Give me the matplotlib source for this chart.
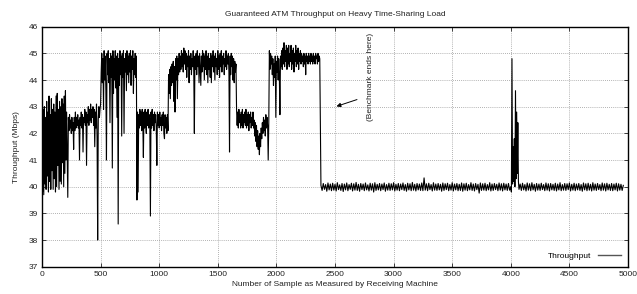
import numpy as np
import matplotlib
matplotlib.use("Agg")
import matplotlib.pyplot as plt

plt.rcParams['font.family'] = ['Liberation Sans', 'DejaVu Sans']

title = "Guaranteed ATM Throughput on Heavy Time-Sharing Load"
xlabel = "Number of Sample as Measured by Receiving Machine"
ylabel = "Throughput (Mbps)"
series_label = "Throughput"
note = "(Benchmark ends here)"
xticks = [0, 500, 1000, 1500, 2000, 2500, 3000, 3500, 4000, 4500, 5000]
yticks = [37, 38, 39, 40, 41, 42, 43, 44, 45, 46]

# segments of the measured series: (first sample, sample step, values)
seg_a1 = [43.1, 39.8, 42.9, 39.7, 43.0, 40.1, 42.6, 39.9, 43.2, 40.4,
          42.8, 39.8, 43.4, 40.2, 42.7, 39.9, 43.3, 40.6, 42.9, 39.9,
          43.1, 40.3, 42.8, 39.8, 43.4, 40.0, 43.5, 40.8, 42.9, 39.9,
          43.2, 40.2, 43.0, 40.1, 43.3, 40.9, 43.1, 40.0, 43.4, 40.5,
          43.6, 41.0, 42.8, 41.3, 39.6, 42.6]
seg_a2 = [42.1, 42.7, 42.2, 42.5, 42.0, 42.6, 42.1, 42.4, 41.4, 42.6,
          42.1, 42.8, 42.2, 42.6, 42.3, 42.7, 42.2, 42.5, 41.0, 42.6,
          42.3, 42.8, 42.2, 42.7, 41.3, 42.6, 42.4, 42.9, 42.3, 42.8,
          40.8, 42.7, 42.4, 43.0, 42.3, 42.9, 42.5, 43.1, 42.4, 42.9,
          42.6, 43.0, 42.3, 42.9, 41.5, 42.8, 42.2, 43.1, 41.8, 38.0,
          42.5, 43.0, 42.6, 42.9]
seg_c = [43.1, 44.3, 45.0, 43.9, 44.8, 42.9, 45.1, 44.0, 44.9, 43.6,
         41.0, 45.0, 44.2, 45.1, 43.9, 44.8, 42.4, 45.0, 44.1, 44.9,
         40.7, 45.1, 43.5, 44.8, 44.0, 45.1, 43.7, 44.9, 42.6, 45.0,
         38.6, 44.8, 43.8, 45.1, 44.2, 44.9, 41.9, 45.0, 44.1, 45.1,
         42.0, 44.8, 44.3, 45.0, 43.6, 45.1, 44.2, 44.9, 43.9, 45.0,
         44.3, 45.1, 43.8, 44.9, 44.4, 45.1, 43.5, 44.8, 44.2, 45.0,
         44.1, 44.9]
seg_d = [39.5, 42.8, 39.8, 42.7, 42.2, 42.9, 42.3, 42.8, 42.1, 42.9,
         42.4, 41.1, 42.8, 42.2, 42.9, 42.3, 42.0, 42.8, 42.3, 42.9,
         42.2, 42.7, 42.4, 38.9, 42.8, 42.2, 42.9, 42.3, 42.7, 42.1,
         42.8, 42.4, 42.7, 42.2, 40.8, 42.8, 42.3, 42.7, 42.2, 42.8,
         42.3, 42.6, 42.1, 42.7, 42.3, 42.8, 42.0, 41.8, 42.7, 42.2,
         42.6, 42.0, 42.7, 42.1]
seg_e = [44.2, 43.5, 44.4, 43.3, 44.5, 43.8, 44.6, 43.9, 44.7, 43.2,
         44.5, 42.8, 44.8, 44.0, 44.9, 43.3, 44.8, 44.2, 45.0, 44.3,
         44.9, 44.4, 45.1, 44.5, 45.0, 44.3, 45.2, 44.6, 45.1, 44.4,
         45.0, 44.1, 44.9, 44.5, 45.1, 43.9, 44.9, 44.4, 45.0, 44.2,
         44.8, 44.5, 45.1, 44.3, 42.0, 44.9, 44.4, 45.0, 44.2, 45.1,
         44.5, 44.9, 43.9, 45.0, 44.4, 43.8, 44.9, 44.3, 45.1, 44.5,
         45.0, 44.0, 44.9, 44.4, 45.1, 44.2, 44.9, 43.9, 45.0, 44.4,
         44.8, 44.1, 45.0, 43.9, 44.9, 44.5, 45.1, 44.3, 44.9, 44.0,
         45.0, 44.5, 44.8, 44.2, 45.1, 44.4, 44.9, 44.1, 45.0, 44.5,
         45.1, 44.3, 44.9, 44.6, 45.0, 44.2, 44.8, 44.5, 45.1, 44.4,
         44.9, 44.6, 45.0, 44.3, 41.3, 44.9, 44.2, 45.0, 44.5, 44.9,
         44.0, 44.8, 43.9, 44.7, 44.3, 44.6]
seg_f = [42.9, 42.3, 42.8, 42.2, 42.9, 42.4, 42.7, 42.2, 42.8, 42.3,
         42.9, 42.2, 42.7, 42.4, 42.8, 42.3, 42.9, 42.2, 42.7, 42.3,
         42.8, 42.1, 42.7, 42.4, 42.8, 42.2, 42.6, 42.3, 42.8, 42.2,
         42.5, 41.9, 42.4, 41.7, 42.3, 41.5, 42.1, 41.4, 41.9, 41.2,
         42.0, 41.5, 42.2, 41.8, 42.4, 42.0, 42.6, 42.1, 42.5, 41.9,
         42.7, 42.2, 42.6, 42.3, 41.0, 42.4]
seg_g = [45.1, 44.4, 45.0, 44.6, 44.9, 44.2, 44.8, 43.8, 44.6, 44.1,
         44.9, 42.6, 44.7, 44.3, 44.9, 44.0, 44.8, 44.2, 42.7, 44.9,
         44.5, 45.1, 44.4, 45.2, 44.6, 45.4, 44.5, 45.1, 44.7, 45.3,
         44.4, 45.2, 44.6, 45.3, 44.5, 45.0, 44.7, 45.3, 44.4, 45.1,
         44.6, 45.2, 44.3, 45.0, 44.7, 45.3, 44.5, 45.1, 44.6, 45.2,
         44.4, 45.0, 44.7, 45.1, 44.6, 45.0, 44.7, 44.9, 44.5, 45.0,
         44.6, 44.9, 44.2, 45.0, 44.7, 44.9, 44.6, 45.0, 44.7, 44.9,
         44.6, 45.0, 44.7, 44.9, 44.6, 45.0, 44.7, 44.9, 44.6, 45.0,
         44.8, 44.9, 44.6, 45.0, 44.7, 44.9, 44.8]
seg_h = [40.05, 39.86, 40.12, 39.90, 40.08, 39.83, 40.14, 39.88, 40.10, 39.85,
         40.13, 39.87, 40.09, 39.84, 40.15, 39.89, 40.07, 39.86, 40.12, 39.82,
         40.10, 39.88, 40.14, 39.85, 40.08, 39.90, 40.13, 39.84, 40.11, 39.87,
         40.16, 39.86, 40.09, 39.83, 40.12, 39.89, 40.10, 39.85, 40.14, 39.88,
         40.07, 39.84, 40.13, 39.87, 40.11, 39.80, 40.15, 39.86, 40.09, 39.88,
         40.12, 39.85, 40.10, 39.89, 40.14, 39.83, 40.08, 39.87, 40.13, 39.86,
         40.11, 39.88, 40.15, 39.84, 40.09, 39.87, 40.12, 39.85, 40.10, 39.89,
         40.14, 39.86, 40.08, 39.83, 40.13, 39.88, 40.11, 39.85, 40.16, 39.87,
         40.09, 39.84, 40.12, 39.88, 40.10, 39.86, 40.14, 39.85, 40.33, 39.87,
         40.11, 39.85, 40.13, 39.89, 40.08, 39.84, 40.15, 39.87, 40.10, 39.86,
         40.12, 39.88, 40.09, 39.83, 40.14, 39.86, 40.11, 39.89, 40.13, 39.85,
         40.08, 39.87, 40.15, 39.84, 40.10, 39.88, 40.12, 39.85, 40.09, 39.86,
         40.14, 39.83, 40.11, 39.87, 40.13, 39.85, 40.08, 39.88, 40.15, 39.86,
         40.10, 39.84, 40.12, 39.89, 40.09, 39.76, 40.14, 39.86, 40.11, 39.87,
         40.13, 39.85, 40.08, 39.88, 40.15, 39.84, 40.10, 39.86, 40.12, 39.89,
         40.09, 39.85, 40.14, 39.87, 40.11, 39.84, 40.13, 39.88, 40.10, 39.86,
         40.12, 39.87]
seg_spike = [40.0, 39.8, 44.8, 40.1, 41.5, 40.2, 41.8, 40.0, 43.6, 40.3,
             42.8, 40.5, 42.4, 40.2, 39.9]
seg_i = [40.10, 39.86, 40.13, 39.88, 40.08, 39.84, 40.14, 39.87, 40.11, 39.85,
         40.15, 39.88, 40.09, 39.83, 40.12, 39.87, 40.10, 39.86, 40.13, 39.89,
         40.08, 39.85, 40.14, 39.87, 40.11, 39.84, 40.12, 39.88, 40.09, 39.86,
         40.13, 39.84, 40.10, 39.88, 40.15, 39.85, 40.08, 39.87, 40.12, 39.86,
         40.11, 39.89, 40.14, 39.84, 40.09, 39.87, 40.13, 39.85, 40.10, 39.88,
         40.12, 39.86, 40.08, 39.83, 40.14, 39.88, 40.11, 39.85, 40.13, 39.87,
         40.09, 39.84, 40.15, 39.87, 40.10, 39.86, 40.12, 39.89, 40.08, 39.85,
         40.14, 39.87, 40.11, 39.84, 40.13, 39.88, 40.09, 39.86, 40.12, 39.85,
         40.10, 39.88, 40.13, 39.84, 40.11, 39.87, 40.09, 39.86, 40.05]

segments = [(0, 5, seg_a1), (230, 5, seg_a2), (500, 5, seg_c), (810, 5, seg_d),
            (1080, 5, seg_e), (1660, 5, seg_f), (1940, 5, seg_g),
            (2380, 10, seg_h), (4000, 5, seg_spike), (4080, 10, seg_i)]

xs, ys = [], []
for start, step, vals in segments:
    xs.extend(start + step * np.arange(len(vals)))
    ys.extend(vals)

fig = plt.figure(figsize=(6.37, 2.94), dpi=100)
ax = fig.add_axes([42 / 637, 1 - 266.7 / 294, (628 - 42) / 637, (266.7 - 26.7) / 294])

ax.plot(xs, ys, color='black', lw=0.8, label=series_label)
ax.set_xlim(0, 5000)
ax.set_ylim(37, 46)
ax.set_xticks(xticks)
ax.set_yticks(yticks)
ax.tick_params(direction='in', length=3, width=0.6, labelsize=6, pad=3,
               top=True, right=True, colors='#222222')
ax.grid(True, linestyle=(0, (1, 1.5)), color='#999999', lw=0.6)
for s in ax.spines.values():
    s.set_linewidth(1.0)

ax.set_title(title, fontsize=6, pad=8, color='#222222')
ax.set_xlabel(xlabel, fontsize=6, labelpad=2, color='#222222')
ax.set_ylabel(ylabel, fontsize=6, labelpad=6, color='#222222')

ax.annotate('', xy=(2490, 42.98), xytext=(2710, 43.3),
            arrowprops=dict(arrowstyle='-|>', color='black', lw=0.7,
                            mutation_scale=6))
ax.text(2806, 44.1, note, rotation=90, fontsize=6, ha='center', va='center',
        color='#222222')

leg = ax.legend(loc='lower right', frameon=False, markerfirst=False,
                fontsize=6, handlelength=2.8, borderaxespad=0.4)
for l in leg.get_lines():
    l.set_color('#555555')
    l.set_linewidth(1.0)

fig.savefig('out.png', dpi=100)
